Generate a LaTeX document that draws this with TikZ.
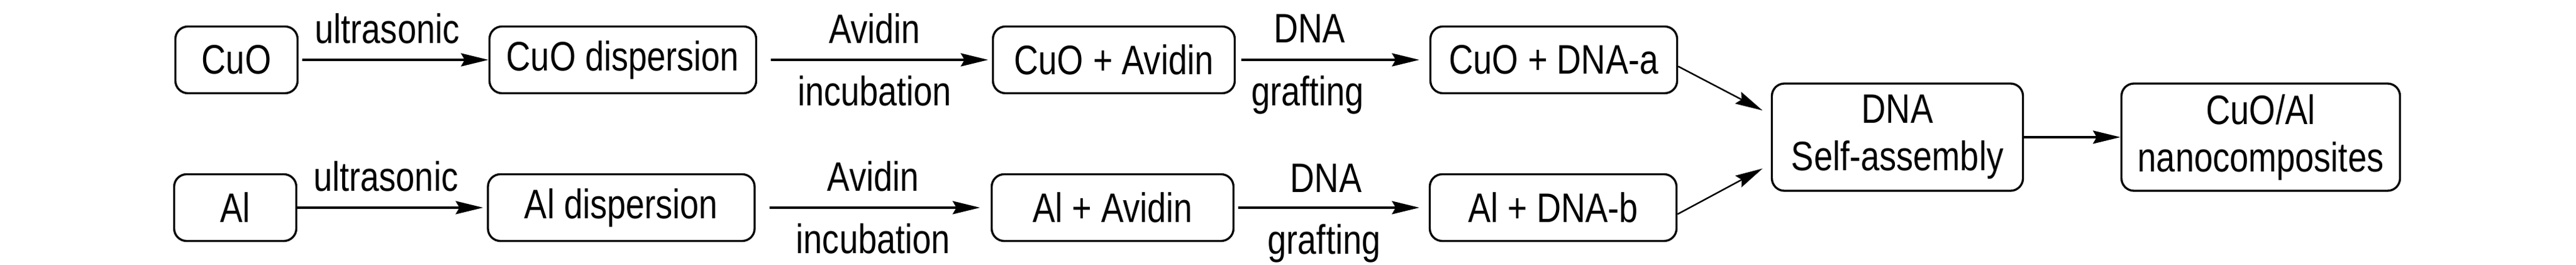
\documentclass[tikz,border=0pt]{standalone}
\usepackage{fontspec}
\setmainfont{Liberation Sans}[FakeStretch=0.82]
\usetikzlibrary{arrows.meta}

\begin{document}
\begin{tikzpicture}[
        font=\fontsize{18.8}{21.6}\selectfont,
        box/.style={draw,line width=0.95pt,rounded corners=0.2cm,align=center,minimum height=1.07cm,inner sep=2pt},
        arr/.style={line width=0.95pt,-{Stealth[length=0.44cm,width=0.21cm,inset=0.06cm]}},
        lab/.style={inner sep=0pt}
    ]
            \useasboundingbox (0,0) rectangle (41.34,4.25);

            \node[box,minimum width=1.96cm] (cuo) at (3.795,3.29) {CuO};
            \node[box,minimum width=4.28cm] (cuodisp) at (9.995,3.29) {CuO dispersion};
            \node[box,minimum width=3.88cm] (cuoavi) at (17.875,3.29) {CuO + Avidin};
            \node[box,minimum width=3.96cm] (cuodna) at (24.935,3.29) {CuO + DNA-a};

            \node[box,minimum width=1.96cm] (al) at (3.775,0.92) {Al};
            \node[box,minimum width=4.28cm] (aldisp) at (9.97,0.92) {Al dispersion};
            \node[box,minimum width=3.88cm] (alavi) at (17.855,0.92) {Al + Avidin};
            \node[box,minimum width=3.96cm] (aldna) at (24.925,0.92) {Al + DNA-b};

            \node[box,minimum width=4.03cm,minimum height=1.72cm] (selfasm) at (30.45,2.05) {DNA\\Self-assembly};
            \node[box,minimum width=4.47cm,minimum height=1.72cm] (nano) at (36.28,2.05) {CuO/Al\\nanocomposites};

            \draw[arr,shorten <=0.06cm] (cuo) -- (cuodisp)
                node[lab,midway,above=0.24cm,xshift=-0.1cm]{ultrasonic};
            \draw[arr,shorten <=0.22cm,shorten >=0.06cm] (cuodisp) -- (cuoavi)
                node[lab,midway,above=0.24cm]{Avidin} node[lab,midway,below=0.24cm]{incubation};
            \draw[arr,shorten <=0.09cm,shorten >=0.16cm] (cuoavi) -- (cuodna)
                node[lab,midway,above=0.26cm,xshift=-0.37cm]{DNA} node[lab,midway,below=0.24cm,xshift=-0.4cm]{grafting};

            \draw[arr,shorten >=0.06cm] (al) -- (aldisp)
                node[lab,midway,above=0.24cm,xshift=-0.1cm]{ultrasonic};
            \draw[arr,shorten <=0.22cm,shorten >=0.17cm] (aldisp) -- (alavi)
                node[lab,midway,above=0.24cm]{Avidin} node[lab,midway,below=0.24cm]{incubation};
            \draw[arr,shorten <=0.06cm,shorten >=0.15cm] (alavi) -- (aldna)
                node[lab,midway,above=0.23cm,xshift=-0.09cm]{DNA} node[lab,midway,below=0.25cm,xshift=-0.12cm]{grafting};

            \draw[arr,line width=0.7pt,shorten >=0.15cm] (cuodna.-3) -- (selfasm.170);
            \draw[arr,line width=0.7pt,shorten >=0.15cm] (aldna.-3) -- (selfasm.192);
            \draw[arr] (selfasm) -- (nano);
        \end{tikzpicture}
\end{document}
